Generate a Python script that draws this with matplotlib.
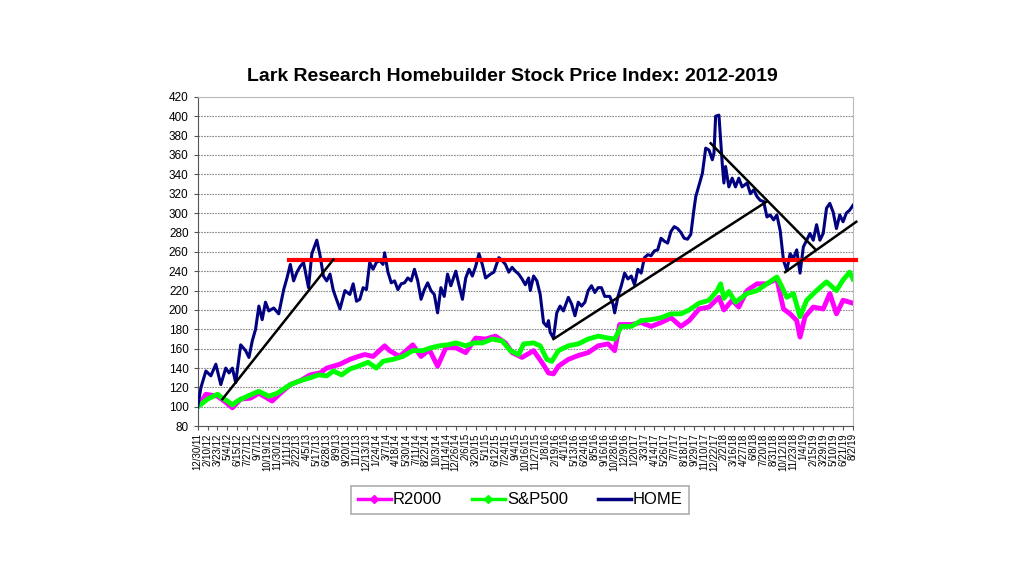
import numpy as np
import matplotlib
matplotlib.use("Agg")
import matplotlib.pyplot as plt
from matplotlib.lines import Line2D

plt.rcParams['font.family'] = ['Liberation Sans', 'DejaVu Sans']

# x axis = weeks since 12/30/11, labels every 6 weeks
tick_labels = ['12/30/11', '2/10/12', '3/23/12', '5/4/12', '6/15/12', '7/27/12', '9/7/12',
               '10/19/12', '11/30/12', '1/11/13', '2/22/13', '4/5/13', '5/17/13', '6/28/13',
               '8/9/13', '9/20/13', '11/1/13', '12/13/13', '1/24/14', '3/7/14', '4/18/14',
               '5/30/14', '7/11/14', '8/22/14', '10/3/14', '11/14/14', '12/26/14', '2/6/15',
               '3/20/15', '5/1/15', '6/12/15', '7/24/15', '9/4/15', '10/16/15', '11/27/15',
               '1/8/16', '2/19/16', '4/1/16', '5/13/16', '6/24/16', '8/5/16', '9/16/16',
               '10/28/16', '12/9/16', '1/20/17', '3/3/17', '4/14/17', '5/26/17', '7/7/17',
               '8/18/17', '9/29/17', '11/10/17', '12/22/17', '2/2/18', '3/16/18', '4/27/18',
               '6/8/18', '7/20/18', '8/31/18', '10/12/18', '11/23/18', '1/4/19', '2/15/19',
               '3/29/19', '5/10/19', '6/21/19', '8/2/19']

home_wk = [0, 2, 5, 8, 11, 14, 17, 19, 21, 23, 26, 29, 31, 33, 35, 37, 39, 41, 43, 46,
           49, 52, 54, 56, 58, 60, 62, 64, 67, 69, 72, 74, 76, 78, 80, 82, 86, 89, 92, 94,
           96, 98, 100, 102, 104, 106, 108, 110, 112, 113, 115, 117, 119, 121, 123, 125, 127, 129, 131, 133,
           135, 137, 139, 141, 143, 145, 147, 149, 151, 153, 156, 158, 160, 162, 164, 166, 168, 170, 172, 174,
           177, 179, 182, 184, 186, 188, 190, 192, 194, 196, 198, 200, 201, 203, 205, 207, 209, 211, 212, 213,
           215, 217, 219, 221, 224, 226, 228, 230, 232, 234, 236, 238, 240, 242, 244, 246, 249, 251, 252, 254,
           256, 258, 260, 262, 264, 266, 268, 270, 272, 274, 276, 278, 280, 282, 284, 286, 288, 290, 292, 294,
           296, 298, 300, 301, 303, 305, 307, 309, 311, 312, 313, 315, 317, 318, 319, 321, 323, 325, 327, 329,
           332, 334, 336, 338, 340, 342, 344, 346, 348, 350, 352, 354, 356, 358, 360, 362, 364, 366, 368, 370,
           372, 374, 376, 378, 380, 382, 384, 386, 388, 390, 392, 394, 396]
home_val = [100, 120, 137, 132, 144, 123, 140, 135, 140, 125, 164, 158, 151, 168, 180, 204, 190, 208, 199, 202,
            196, 221, 233, 247, 230, 239, 245, 249, 223, 258, 272, 256, 235, 230, 237, 220, 201, 220, 216, 227,
            209, 211, 223, 221, 249, 242, 249, 251, 247, 259, 239, 228, 230, 221, 227, 228, 233, 230, 242, 230,
            211, 221, 228, 220, 216, 197, 223, 214, 237, 225, 240, 225, 211, 233, 242, 235, 245, 258, 247, 233,
            237, 239, 254, 251, 247, 239, 244, 240, 237, 232, 226, 233, 220, 235, 230, 216, 187, 183, 189, 177,
            171, 197, 204, 199, 213, 206, 194, 208, 204, 208, 220, 225, 218, 223, 223, 214, 214, 206, 197, 214,
            225, 238, 232, 235, 226, 242, 238, 254, 257, 256, 261, 262, 274, 271, 269, 281, 286, 284, 280, 274,
            273, 278, 305, 317, 329, 341, 367, 365, 355, 362, 400, 401, 351, 331, 348, 327, 336, 327, 336, 327,
            331, 320, 324, 317, 313, 312, 296, 298, 293, 298, 282, 251, 241, 258, 253, 262, 238, 265, 272, 279,
            272, 288, 272, 279, 305, 310, 301, 284, 298, 291, 300, 303, 308]

spx_wk = [0, 6, 12, 15, 18, 21, 24, 30, 37, 43, 48, 56, 62, 68, 73, 78, 82, 87, 92, 97,
          103, 108, 112, 118, 124, 130, 136, 141, 146, 151, 156, 162, 167, 172, 178, 184, 189, 194, 197, 203,
          207, 211, 214, 218, 224, 230, 236, 242, 248, 252, 256, 262, 268, 274, 280, 286, 292, 297, 303, 309,
          314, 316, 318, 321, 325, 332, 338, 344, 350, 353, 356, 360, 364, 368, 374, 380, 386, 390, 394, 396]
spx_val = [100, 108, 113, 109, 106, 102, 106, 111, 116, 111, 114, 123, 127, 130, 133, 132, 137, 133, 139, 142,
           146, 140, 147, 149, 152, 158, 158, 161, 163, 164, 166, 163, 166, 166, 170, 168, 158, 154, 165, 166,
           163, 149, 147, 158, 163, 165, 170, 173, 171, 170, 183, 183, 189, 190, 192, 196, 196, 200, 207, 210,
           220, 227, 212, 219, 208, 217, 220, 227, 234, 224, 213, 217, 193, 210, 220, 229, 220, 231, 239, 232]

r2k_wk = [0, 5, 12, 16, 21, 26, 32, 37, 45, 50, 56, 62, 68, 74, 78, 82, 86, 92, 97, 101,
          106, 113, 116, 122, 130, 135, 140, 145, 150, 156, 162, 168, 174, 180, 186, 190, 196, 203, 208, 212,
          215, 218, 224, 230, 236, 242, 248, 252, 255, 262, 268, 274, 280, 286, 292, 297, 303, 309, 315, 318,
          323, 327, 332, 338, 344, 350, 354, 358, 362, 364, 367, 372, 378, 382, 386, 390, 396]
r2k_val = [100, 113, 111, 106, 99, 108, 109, 114, 106, 114, 123, 127, 133, 135, 140, 142, 144, 149, 152, 154,
           152, 163, 158, 152, 164, 152, 159, 142, 161, 161, 156, 171, 170, 173, 166, 156, 151, 158, 146, 135,
           134, 142, 149, 153, 156, 163, 165, 158, 185, 185, 187, 183, 187, 192, 183, 189, 201, 203, 213, 200,
           210, 203, 220, 227, 227, 232, 201, 196, 189, 172, 193, 203, 201, 217, 196, 210, 207]

# hand-drawn trend lines (week, value) pairs
trend_wk = [[15, 82], [215, 344], [310, 373], [355, 398]]
trend_val = [[108, 252], [170, 312], [372, 263], [239, 291]]
resist_wk = [55, 398]
resist_val = [252, 252]

fig = plt.figure(figsize=(10.24, 5.76), dpi=100)
ax = fig.add_axes([0.193, 0.260, 0.640, 0.572])

ax.plot(r2k_wk, r2k_val, color='#ff00ff', lw=3.5, solid_joinstyle='round', zorder=2)
ax.plot(spx_wk, spx_val, color='#00ff00', lw=3.5, solid_joinstyle='round', zorder=3)
ax.plot(home_wk, home_val, color='#000080', lw=2.2, zorder=4)
ax.plot(resist_wk, resist_val, color='#ff0000', lw=3, zorder=5, clip_on=False)
for xs, ys in zip(trend_wk, trend_val):
    ax.plot(xs, ys, color='black', lw=1.8, zorder=6, clip_on=False)

ax.set_xlim(0, 396)
ax.set_ylim(80, 420)
ax.set_yticks(np.arange(80, 421, 20))
ax.set_xticks(np.arange(0, 397, 6))
ax.set_xticklabels(tick_labels, rotation=90, fontsize=7)
ax.tick_params(axis='y', labelsize=8.5, length=3, color='#555555')
ax.tick_params(axis='x', length=3, color='#555555', pad=2)
ax.grid(axis='y', color='#888888', linestyle=(0, (1.5, 1)), lw=0.8)
ax.set_axisbelow(True)
for s in ['top', 'right']:
    ax.spines[s].set_color('#bbbbbb')
for s in ['left', 'bottom']:
    ax.spines[s].set_color('#555555')

fig.text(0.5, 0.868, 'Lark Research Homebuilder Stock Price Index: 2012-2019',
         ha='center', va='center', fontsize=14, fontweight='bold')

handles = [Line2D([], [], color='#ff00ff', lw=2.5, marker='D', markersize=4),
           Line2D([], [], color='#00ff00', lw=2.5, marker='D', markersize=4),
           Line2D([], [], color='#000080', lw=2.5)]
leg = fig.legend(handles, ['R2000', 'S&P500', 'HOME'], loc='center', ncol=3,
                 bbox_to_anchor=(0.508, 0.132), fontsize=12, fancybox=False,
                 edgecolor='#999999', handlelength=2.0, handletextpad=0.1,
                 columnspacing=1.8, borderpad=0.4)
leg.get_frame().set_linewidth(1.2)

fig.savefig('out.png', dpi=100)
